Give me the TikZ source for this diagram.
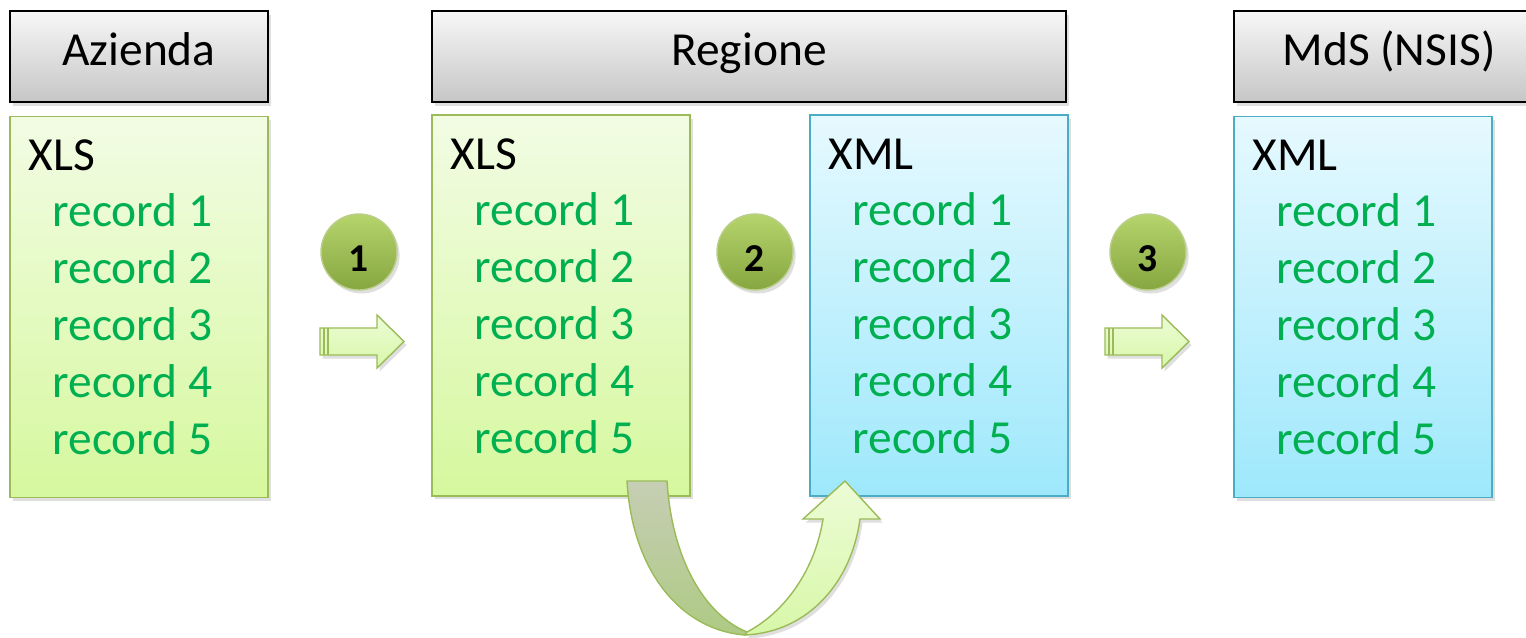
\documentclass[tikz,border=0pt]{standalone}
\usepackage{fontspec}
\setmainfont{Carlito}
\usetikzlibrary{shadows}

\definecolor{hdrtop}{RGB}{247,247,247}
\definecolor{hdrbot}{RGB}{198,198,198}
\definecolor{grnline}{RGB}{155,187,89}
\definecolor{grntop}{RGB}{242,252,228}
\definecolor{grnbot}{RGB}{214,248,158}
\definecolor{blueline}{RGB}{75,172,198}
\definecolor{bluetop}{RGB}{230,249,254}
\definecolor{bluebot}{RGB}{158,232,252}
\definecolor{rectext}{RGB}{0,176,80}
\definecolor{balltop}{RGB}{182,212,108}
\definecolor{ballbot}{RGB}{134,166,64}
\definecolor{bandtop}{RGB}{198,206,180}
\definecolor{bandbot}{RGB}{174,202,132}
\definecolor{arrtop}{RGB}{236,252,214}
\definecolor{arrbot}{RGB}{216,247,168}

\begin{document}
\begin{tikzpicture}[x=0.02cm, y=-0.02cm,
    softshadow/.style={drop shadow={shadow xshift=1.5pt, shadow yshift=-2pt, opacity=0.25}},
    header/.style={draw=black, line width=1.1pt, top color=hdrtop, bottom color=hdrbot,
        minimum height=1.82cm, text height=0.6cm, text depth=0.26cm,
        font=\fontsize{27}{30}\selectfont, softshadow},
    xlsbox/.style={draw=grnline, line width=0.9pt, top color=grntop, bottom color=grnbot,
        minimum width=5.16cm, minimum height=7.62cm, softshadow},
    xmlbox/.style={xlsbox, draw=blueline, top color=bluetop, bottom color=bluebot},
    title/.style={anchor=base west, inner sep=0pt, font=\fontsize{27}{30}\selectfont},
    rec/.style={title, text=rectext},
    ball/.style={circle, draw=grnline!70!white, line width=0.8pt, top color=balltop, bottom color=ballbot,
        minimum size=1.52cm, text height=0.76cm, text depth=0pt,
        font=\fontsize{22.5}{24}\bfseries\selectfont, softshadow},
    blockarrow/.style={draw=grnline, line width=0.8pt, top color=arrtop, bottom color=arrbot,
        line join=miter, softshadow},
    band/.style={draw=grnline, line width=0.8pt, top color=bandtop, bottom color=bandbot}]

    \useasboundingbox (0,0) rectangle (1526,637);

    % headers
    \node[header, minimum width=5.16cm] (hAz) at (139,56.5) {Azienda};
    \node[header, minimum width=12.68cm] (hReg) at (749,56.5) {Regione};
    \node[header, minimum width=6.2cm] (hMds) at (1389,56.5) {MdS (NSIS)};

    % data boxes
    \node[xlsbox] (az) at (139,307) {};
    \node[xlsbox] (rxls) at (561,305.5) {};
    \node[xmlbox] (rxml) at (939,305.5) {};
    \node[xmlbox] (mds) at (1363,307) {};

    % box contents
    \foreach \b/\t in {az/XLS, rxls/XLS, rxml/XML, mds/XML} {
        \node[title] (\b-t) at ([shift={(19,55)}]\b.north west) {\t};
        \foreach \i in {1,...,5}
            \node[rec] (\b-r\i) at ([shift={(43,{111+57*(\i-1)})}]\b.north west) {record \i};
    }

    % step markers
    \node[ball] (n1) at (359,252) {1};
    \node[ball] (n2) at (755,252) {2};
    \node[ball] (n3) at (1148,252) {3};

    % transfer arrows
    \foreach \ax in {320,1105} {
        \draw[blockarrow] (\ax,328) -- ++(57,0) -- ++(0,-13) -- ++(27,26.5) -- ++(-27,26.5)
            -- ++(0,-13) -- ++(-57,0) -- cycle;
        \draw[grnline, line width=0.6pt] (\ax+4,328) -- (\ax+4,355) (\ax+8,328) -- (\ax+8,355);
    }

    % conversion arrow XLS -> XML
    \draw[band] (627,481) -- (667,481) .. controls (672,560) and (705,615) .. (747,632)
        -- (745,635) .. controls (680,630) and (632,570) .. (627,481) -- cycle;
    \draw[blockarrow] (745,635) .. controls (810,632) and (852,580) .. (860,519)
        -- (880,519) -- (845,481) -- (803,519) -- (823,519)
        .. controls (815,570) and (785,612) .. (747,632) -- cycle;
\end{tikzpicture}
\end{document}
